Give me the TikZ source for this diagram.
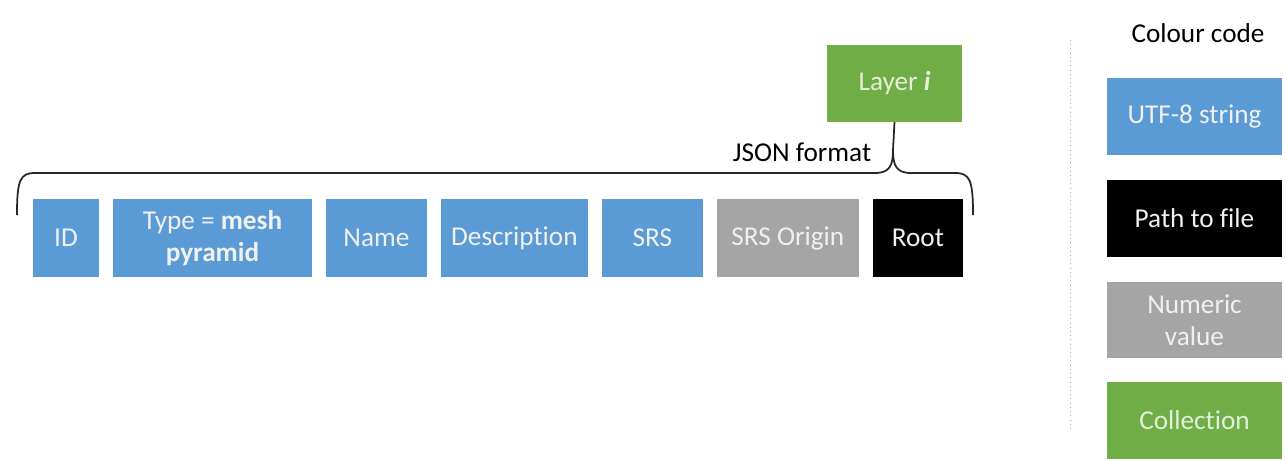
\documentclass[tikz,border=0pt]{standalone}
\usepackage{fontspec}
\setmainfont{Carlito}[Ligatures=NoCommon]
\usepackage{tikz}
\usetikzlibrary{positioning}

\definecolor{strblue}{HTML}{5B9BD5}
\definecolor{numgray}{HTML}{A5A5A5}
\definecolor{colgreen}{HTML}{70AD47}
\definecolor{lightgreen}{HTML}{E2F0D9}

\begin{document}
\begin{tikzpicture}[
    x=0.02cm, y=-0.02cm,
    font=\fontsize{15.5}{18.5}\selectfont,
    node distance=2.8mm,
    field/.style={align=center, minimum height=15.6mm, inner sep=2pt, outer sep=0pt, text=white!94!black},
    strfield/.style={field, fill=strblue},
    numfield/.style={field, fill=numgray},
    pathfield/.style={field, fill=black},
    collfield/.style={field, fill=colgreen, text=lightgreen},
    legendbox/.style={minimum width=35mm, minimum height=15.4mm, align=center, inner sep=2pt}
]
\useasboundingbox (0,0) rectangle (1287,460);

% ---------- Layer fields ----------
\node[strfield, minimum width=13.2mm] (id) at (66,238) {ID};
\node[strfield, minimum width=39.8mm, right=of id] (type) {Type = \textbf{mesh}\\\textbf{pyramid}};
\node[strfield, minimum width=20.2mm, right=of type] (name) {Name};
\node[strfield, minimum width=29.4mm, right=of name] (desc) {Description};
\node[strfield, minimum width=20.2mm, right=of desc] (srs) {SRS};
\node[numfield, minimum width=28.4mm, right=of srs] (origin) {SRS Origin};
\node[pathfield, minimum width=18mm, right=of origin] (root) {Root};

% ---------- Layer on top ----------
\node[collfield, minimum width=27mm, minimum height=15.4mm] (layer) at (894.5,83.5) {Layer \textbf{\textit{i}}};

% ---------- Brace ----------
\coordinate (tip) at (893,150);
\draw[line width=1pt, black!85] (17,215) .. controls (17,180) and (20,173) .. (35,173)
    -- (875,173) .. controls (890,173) and (893,165) .. (tip)
    .. controls (893,165) and (896,173) .. (911,173)
    -- (955,173) .. controls (970,173) and (973,180) .. (973,215);
\draw[line width=1pt, black!85] (layer.south) -- (tip);
\node (json) at (802,152) {JSON format};

% ---------- Colour code ----------
\draw[dotted, gray!70] (1070,40) -- (1070,430);
\node (legend) at (1198,33) {Colour code};
\node[legendbox, fill=strblue, text=white!94!black] (kstr) at (1194.5,116.5) {UTF-8 string};
\node[legendbox, fill=black, text=white!94!black] (kpath) at (1194.5,218.5) {Path to file};
\node[legendbox, fill=numgray, text=white!94!black] (knum) at (1194.5,320) {Numeric\\value};
\node[legendbox, fill=colgreen, text=lightgreen] (kcoll) at (1194.5,420) {Collection};

\end{tikzpicture}
\end{document}
